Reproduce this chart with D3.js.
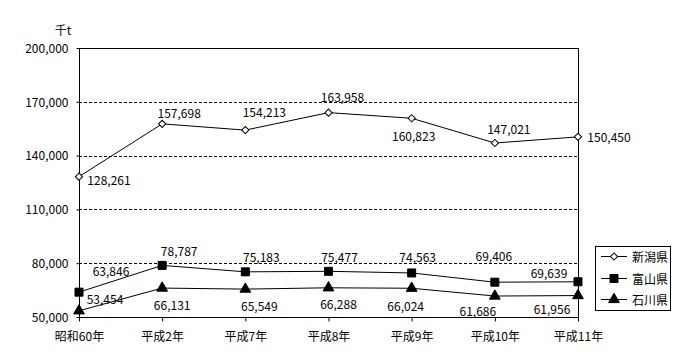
<!DOCTYPE html>
<html><head><meta charset="utf-8">
<script src="https://cdn.jsdelivr.net/npm/d3@7"></script>
<style>body{margin:0;background:#fff;} text{font-family:"Noto Sans CJK JP","DejaVu Sans",sans-serif;font-size:12px;fill:#000;}</style>
</head><body><svg id="c" width="700" height="360"></svg>
<script>
const categories = ["昭和60年","平成2年","平成7年","平成8年","平成9年","平成10年","平成11年"];
const niigata = [128261,157698,154213,163958,160823,147021,150450];
const toyama = [63846,78787,75183,75477,74563,69406,69639];
const ishikawa = [53454,66131,65549,66288,66024,61686,61956];
const seriesNames = ["新潟県","富山県","石川県"];
const yTicks = [50000,80000,110000,140000,170000,200000];
const yUnit = "千t";
// label offsets (styling only)
const offsets = [
  [[30,3],[17,-11],[19,-19],[14,-16],[2,17],[14,-15],[31,0]],
  [[32,-22],[17,-15],[16,-15],[11,-15],[6,-16],[-1,-27],[-29,-9]],
  [[26,-12],[10,16],[14,16],[10,16],[-6,17],[-17,14],[-26,13]]
];
const svg = d3.select("#c");
const L=79,R=578,T=48,B=317;
const x = d3.scalePoint().domain(categories).range([L,R]);
const y = d3.scaleLinear().domain([50000,200000]).range([B,T]);
const fmt = d3.format(",");
// grid
svg.append("g").selectAll("line").data(yTicks.filter(v=>v>50000&&v<200000)).join("line")
  .attr("x1",L).attr("x2",R).attr("y1",d=>Math.round(y(d))+0.5).attr("y2",d=>Math.round(y(d))+0.5)
  .attr("stroke","#000").attr("stroke-dasharray","3,2");
// frame top & right
svg.append("line").attr("x1",L).attr("x2",R+1).attr("y1",T+0.5).attr("y2",T+0.5).attr("stroke","#000");
svg.append("line").attr("x1",R+0.5).attr("x2",R+0.5).attr("y1",T).attr("y2",B).attr("stroke","#000");
// axes
const ya = svg.append("g").attr("transform",`translate(${L+0.5},0)`)
  .call(d3.axisLeft(y).tickValues(yTicks).tickFormat(fmt).tickSize(3).tickPadding(8));
ya.select(".domain").attr("d",`M0,${T}V${B}`);
ya.selectAll("text").style("font-size","12px").attr("dy","0.35em");
const xa = svg.append("g").attr("transform",`translate(0,${B+0.5})`)
  .call(d3.axisBottom(x).tickSize(4).tickPadding(11));
xa.select(".domain").attr("d",`M${L},0H${R+1}`);
xa.selectAll("text").style("font-size","12px");
svg.selectAll(".tick line").attr("stroke","#000");
svg.selectAll(".domain").attr("stroke","#000");
svg.append("text").attr("x",63).attr("y",29).attr("text-anchor","middle").attr("dominant-baseline","central").text(yUnit);

const series=[niigata,toyama,ishikawa];
const symbols=[d3.symbolSquare,d3.symbolSquare,d3.symbolTriangle];
const sizes=[26,64,50];
const rots=[45,0,0];
const fills=["#fff","#000","#000"];
const line = d3.line().x((d,i)=>x(categories[i])).y(d=>y(d));
series.forEach((s,k)=>{
  const g=svg.append("g");
  g.append("path").attr("d",line(s)).attr("fill","none").attr("stroke","#000").attr("stroke-width",1);
  g.selectAll("path.m").data(s).join("path").attr("class","m")
    .attr("transform",(d,i)=>`translate(${x(categories[i])},${y(d)}) rotate(${rots[k]})`)
    .attr("d",d3.symbol().type(symbols[k]).size(sizes[k]))
    .attr("fill",fills[k]).attr("stroke","#000").attr("stroke-width",1);
  g.selectAll("text").data(s).join("text")
    .attr("x",(d,i)=>x(categories[i])+offsets[k][i][0])
    .attr("y",(d,i)=>y(d)+offsets[k][i][1])
    .attr("text-anchor","middle").attr("dominant-baseline","central")
    .text(d=>fmt(d));
});
// legend
const lg=svg.append("g");
lg.append("rect").attr("x",595.5).attr("y",246.5).attr("width",75).attr("height",64).attr("fill","#fff").attr("stroke","#000");
seriesNames.forEach((n,k)=>{
  const ly=[256.5,278.5,299.5][k];
  lg.append("line").attr("x1",601).attr("x2",627).attr("y1",ly).attr("y2",ly).attr("stroke","#000");
  lg.append("path").attr("transform",`translate(614,${ly}) rotate(${rots[k]})`).attr("d",d3.symbol().type(symbols[k]).size(sizes[k]))
    .attr("fill",fills[k]).attr("stroke","#000");
  lg.append("text").attr("x",632).attr("y",ly).attr("dominant-baseline","central").text(n);
});
</script></body></html>
